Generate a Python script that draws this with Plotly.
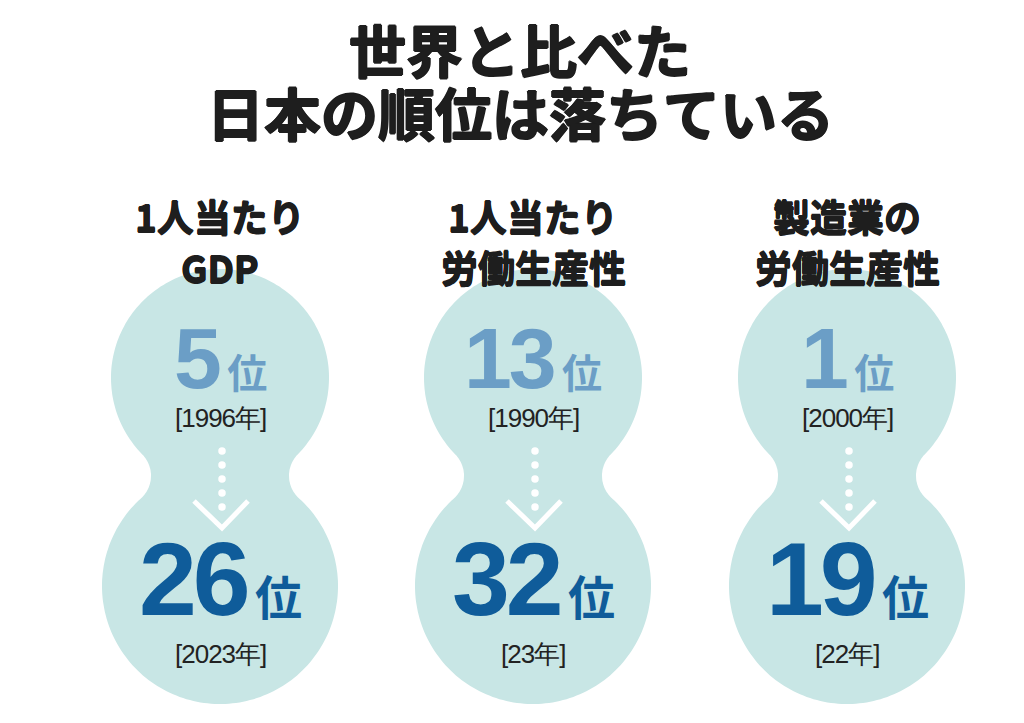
import numpy as np
import plotly.graph_objects as go

# --- data ---
title_lines = ["世界と比べた", "日本の順位は落ちている"]
headers = [["1人当たり", "GDP"], ["1人当たり", "労働生産性"], ["製造業の", "労働生産性"]]
rank_before = [5, 13, 1]
year_before = ["1996年", "1990年", "2000年"]
rank_after = [26, 32, 19]
year_after = ["2023年", "23年", "22年"]

W, H = 1024, 723
col_x = [212, 525, 839]

TEAL = "#c8e6e5"
LIGHT_BLUE = "#6b9ec6"
DARK_BLUE = "#0f5c9a"
INK = "#1e1e1e"
JP = "Noto Sans CJK JP"
NUM = "Liberation Sans"


def heavy(px, color=INK):
    # fake a heavier weight with a thin outline made of text shadows
    return ", ".join(f"{dx}px {dy}px 0 {color}" for dx, dy in
                     [(px, 0), (-px, 0), (0, px), (0, -px)])


def peanut(cx, y1=370, r1=109, y2=578, r2=118, waist=69, n=160):
    # two circles joined by concave fillets -> svg path
    lo, hi = 0.5, 200.0
    for _ in range(60):
        rf = (lo + hi) / 2
        yf = (y1 + y2) / 2 + ((r1 + rf) ** 2 - (r2 + rf) ** 2) / (2 * (y2 - y1))
        a = np.sqrt((r1 + rf) ** 2 - (yf - y1) ** 2)
        if a - rf > waist:
            hi = rf
        else:
            lo = rf
    t1 = np.arctan2(yf - y1, a)
    t2 = np.arctan2(yf - y2, a)
    pts = []
    for t in np.linspace(t1, np.pi - t1 - 2 * np.pi, n):
        pts.append((cx + r1 * np.cos(t), y1 + r1 * np.sin(t)))
    fa = np.arctan2(y1 - yf, a)
    fb = np.arctan2(y2 - yf, a)
    for t in np.linspace(fa, fb, 30):
        pts.append((cx - a + rf * np.cos(t), yf + rf * np.sin(t)))
    for t in np.linspace(np.pi - t2, t2, n):
        pts.append((cx + r2 * np.cos(t), y2 + r2 * np.sin(t)))
    for t in np.linspace(np.pi - fb, np.pi - fa, 30):
        pts.append((cx + a + rf * np.cos(t), yf + rf * np.sin(t)))
    return "M " + " L ".join(f"{x:.1f},{y:.1f}" for x, y in pts) + " Z"


def rank_text(rank, kanji_px, spacing):
    return (f"<span style='letter-spacing:{spacing}px'><b>{rank}</b></span>"
            f"<span style='font-size:30px'>&nbsp;</span>"
            f"<span style='font-family:{JP};font-size:{kanji_px}px;font-weight:bold'>位</span>")


def year_text(label):
    return f"<span style='letter-spacing:-1px'>[{label}]</span>"


fig = go.Figure()

shapes = [dict(type="path", path=peanut(cx), fillcolor=TEAL, line_width=0, layer="below")
          for cx in col_x]

annotations = []
for i, line in enumerate(title_lines):
    annotations.append(dict(x=W / 2, y=40 + 63 * i, text=f"<b>{line}</b>",
                            font=dict(family=JP, size=57, color=INK, shadow=heavy(1.1))))

for cx, hdr, rb, yb, ra, ya in zip(col_x, headers, rank_before, year_before, rank_after, year_after):
    for j, line in enumerate(hdr):
        annotations.append(dict(x=cx, y=208 + 51 * j, text=f"<b>{line}</b>",
                                font=dict(family=JP, size=37, color=INK, shadow=heavy(0.6))))
    annotations.append(dict(x=cx, y=400, yanchor="bottom",
                            text=rank_text(rb, 40, -3),
                            font=dict(color=LIGHT_BLUE, family=NUM, size=86)))
    annotations.append(dict(x=cx, y=410, text=year_text(yb),
                            font=dict(family=NUM, size=26, color="#222222")))
    annotations.append(dict(x=cx, y=631, yanchor="bottom",
                            text=rank_text(ra, 47, -4),
                            font=dict(color=DARK_BLUE, family=NUM, size=104)))
    annotations.append(dict(x=cx, y=646, text=year_text(ya),
                            font=dict(family=NUM, size=26, color="#222222")))

    # dotted arrow
    fig.add_trace(go.Scatter(x=[cx + 2] * 5, y=[443, 457, 471, 485, 499], mode="markers",
                             marker=dict(size=7.5, color="white"), hoverinfo="skip"))
    fig.add_trace(go.Scatter(x=[cx - 26, cx + 2, cx + 28], y=[493, 520, 493], mode="lines",
                             line=dict(color="white", width=5), hoverinfo="skip"))

for a in annotations:
    a.update(xref="x", yref="y", showarrow=False)

fig.update_layout(
    width=W, height=H, margin=dict(l=0, r=0, t=0, b=0),
    paper_bgcolor="white", plot_bgcolor="white", showlegend=False,
    xaxis=dict(range=[0, W], visible=False, fixedrange=True),
    yaxis=dict(range=[H, 0], visible=False, fixedrange=True),
    shapes=shapes, annotations=annotations,
)

fig.write_html("out.html")
